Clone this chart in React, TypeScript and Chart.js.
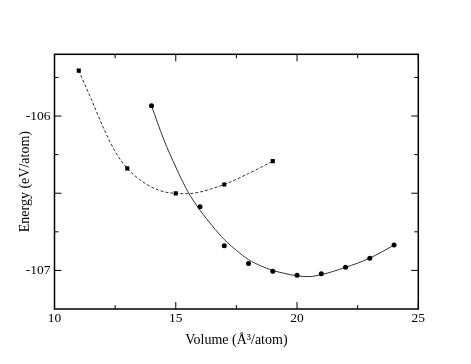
import React, { useEffect, useRef } from "react";
import { Chart, registerables } from "chart.js";

Chart.register(...registerables);

// Dashed series (square markers)
const volumesA = [11, 13, 15, 17, 19];
const energiesA = [-105.706, -106.339, -106.501, -106.443, -106.292];
// Dashed fit curve
const fitVolumesA = [11, 11.5, 12, 12.5, 13, 13.5, 14, 14.5, 15, 15.5, 16, 16.5, 17, 17.5, 18, 18.5, 19];
const fitEnergiesA = [-105.706, -105.885, -106.07, -106.23, -106.339, -106.41, -106.46, -106.49, -106.501, -106.503, -106.492, -106.47, -106.443, -106.41, -106.372, -106.333, -106.292];

// Solid series (circle markers)
const volumesB = [14, 16, 17, 18, 19, 20, 21, 22, 23, 24];
const energiesB = [-105.933, -106.588, -106.84, -106.955, -107.005, -107.031, -107.022, -106.979, -106.922, -106.836];
// Solid fit curve
const fitVolumesB = [14, 14.5, 15, 15.5, 16, 16.5, 17, 17.5, 18, 18.5, 19, 19.5, 20, 20.5, 21, 21.5, 22, 22.5, 23, 23.5, 24];
const fitEnergiesB = [-105.933, -106.15, -106.33, -106.49, -106.61, -106.71, -106.8, -106.87, -106.93, -106.97, -107.0, -107.02, -107.035, -107.04, -107.027, -107.006, -106.98, -106.953, -106.92, -106.88, -106.836];

const xMajorTicks = [10, 15, 20, 25];
const xMinorTicks = [12.5, 17.5, 22.5];
const yLabelTicks = [-107, -106];
const yMajorTicks = [-107, -106.5, -106];
const yMinorTicks = [-106.75, -106.25, -105.75];

const X_MIN = 10, X_MAX = 25, Y_MIN = -107.25, Y_MAX = -105.6;

const toXY = (xs: number[], ys: number[]) => xs.map((x, i) => ({ x, y: ys[i] }));

const TICK_FONT = { family: "'Liberation Serif', 'DejaVu Serif', serif", size: 13.5 };
const TITLE_FONT = { family: "'Liberation Serif', 'DejaVu Serif', serif", size: 14 };

const framePlugin = {
  id: "frameTicks",
  afterDatasetsDraw(chart: any) {
    const { ctx, chartArea: a, scales } = chart;
    const xs = scales.x, ys = scales.y;
    ctx.save();
    ctx.strokeStyle = "#000";
    ctx.lineWidth = 1;
    const major = 7, minor = 4;
    ctx.beginPath();
    const vx = (v: number, len: number) => {
      const p = xs.getPixelForValue(v);
      ctx.moveTo(p, a.bottom); ctx.lineTo(p, a.bottom - len);
      ctx.moveTo(p, a.top); ctx.lineTo(p, a.top + len);
    };
    const vy = (v: number, len: number) => {
      const p = ys.getPixelForValue(v);
      ctx.moveTo(a.left, p); ctx.lineTo(a.left + len, p);
      ctx.moveTo(a.right, p); ctx.lineTo(a.right - len, p);
    };
    xMajorTicks.forEach((v) => vx(v, major));
    xMinorTicks.forEach((v) => vx(v, minor));
    yMajorTicks.forEach((v) => vy(v, major));
    yMinorTicks.forEach((v) => vy(v, minor));
    ctx.stroke();
    ctx.lineWidth = 1.5;
    ctx.strokeRect(a.left, a.top, a.right - a.left, a.bottom - a.top);
    ctx.restore();
  },
};

export default function App() {
  const ref = useRef<HTMLCanvasElement | null>(null);
  useEffect(() => {
    if (!ref.current) return;
    const chart = new Chart(ref.current, {
      type: "scatter",
      data: {
        datasets: [
          {
            label: "A points",
            data: toXY(volumesA, energiesA),
            pointStyle: "rect",
            pointRadius: 2.9,
            backgroundColor: "#000",
            borderColor: "#000",
            borderWidth: 0,
          },
          {
            label: "B points",
            data: toXY(volumesB, energiesB),
            pointStyle: "circle",
            pointRadius: 2.5,
            backgroundColor: "#000",
            borderColor: "#000",
            borderWidth: 0,
          },
          {
            label: "A fit",
            data: toXY(fitVolumesA, fitEnergiesA),
            showLine: true,
            pointRadius: 0,
            borderColor: "#333",
            borderWidth: 1,
            borderDash: [3, 2],
            cubicInterpolationMode: "monotone",
          },
          {
            label: "B fit",
            data: toXY(fitVolumesB, fitEnergiesB),
            showLine: true,
            pointRadius: 0,
            borderColor: "#333",
            borderWidth: 1,
            cubicInterpolationMode: "monotone",
          },
        ],
      },
      options: {
        responsive: false,
        animation: false,
        layout: { padding: { top: 54.3, right: 52.7, left: 0, bottom: 0 } },
        plugins: { legend: { display: false }, tooltip: { enabled: false } },
        scales: {
          x: {
            type: "linear",
            min: X_MIN,
            max: X_MAX,
            grid: { display: false, drawTicks: false },
            border: { display: false },
            afterBuildTicks: (s: any) => { s.ticks = xMajorTicks.map((v) => ({ value: v })); },
            afterFit: (s: any) => { s.height = 55; },
            ticks: { font: TICK_FONT, color: "#000", padding: 1, maxRotation: 0, autoSkip: false },
            title: { display: true, text: "Volume (Å³/atom)", font: TITLE_FONT, color: "#000", padding: { top: 0, bottom: 15.6 } },
          },
          y: {
            type: "linear",
            min: Y_MIN,
            max: Y_MAX,
            grid: { display: false, drawTicks: false },
            border: { display: false },
            afterBuildTicks: (s: any) => { s.ticks = yLabelTicks.map((v) => ({ value: v })); },
            afterFit: (s: any) => { s.width = 54.5; },
            ticks: { font: TICK_FONT, color: "#000", padding: 4, autoSkip: false, callback: (v: any) => String(v) },
            title: { display: true, text: "Energy (eV/atom)", font: TITLE_FONT, color: "#000", padding: { top: 16.6, bottom: 0 } },
          },
        },
      },
      plugins: [framePlugin],
    } as any);
    return () => chart.destroy();
  }, []);
  return (
    <div style={{ position: "absolute", left: 0, top: 0, width: 471, height: 364, background: "#fff" }}>
      <canvas ref={ref} width={471} height={364} />
    </div>
  );
}
